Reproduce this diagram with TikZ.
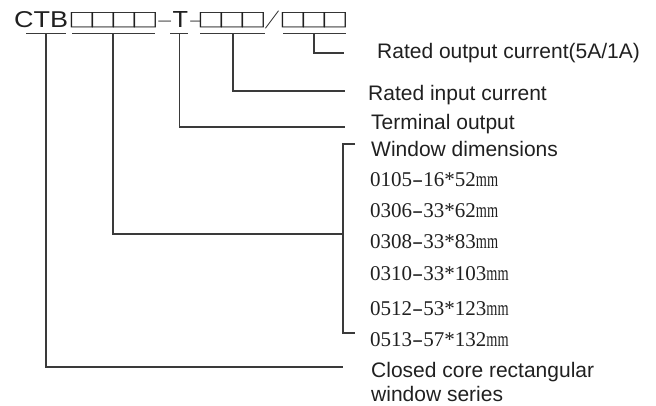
\documentclass[tikz,border=0pt]{standalone}
\usepackage{fontspec}
\setmainfont{Liberation Sans}
\newfontfamily\serifnum{Liberation Serif}
\newfontfamily\cjkfont{Noto Sans CJK SC}
\definecolor{ink}{HTML}{202020}
\definecolor{wirecol}{HTML}{3A3A3A}
\newcommand\mysqf{\cjkfont\bfseries\fontsize{19.25}{19.25}\selectfont}
\newcommand\mysqk{\kern-4.67pt}
\newcommand\mysqe{\kern-2.02pt}
\newcommand\mymm{\scalebox{0.68}[1]{mm}}
\newcommand\myhy{\scalebox{1.6}[1]{-}}
\newcommand\mydash{\fontsize{11}{11}\selectfont\kern-0.44pt-\kern-0.69pt}
\begin{document}
\begin{tikzpicture}[x=1pt,y=-1pt,
  ttl/.style={anchor=base west, inner sep=0pt, text=ink},
  lab/.style={anchor=base west, inner sep=0pt, text=ink, font=\fontsize{21}{24}\selectfont},
  num/.style={anchor=base west, inner sep=0pt, text=ink, font=\serifnum\fontsize{21}{24}\selectfont},
  wire/.style={draw=wirecol, line width=1.2pt}]
\useasboundingbox (0,0) rectangle (656,406);
% title
\node[ttl] (ctb) at (14,28) {\resizebox{54pt}{16pt}{CTB}};
\node[ttl] (b1) at (71,27.4) {\scalebox{1.44}[1]{\mysqf\mysqe □\mysqk□\mysqk□\mysqk□\mysqe}};
\node[ttl] (d1) at (158,24.7) {\scalebox{4.74}[1]{\mydash}};
\node[ttl] (t) at (172.5,28) {\resizebox{15.5pt}{16pt}{T}};
\node[ttl] (d2) at (190,24.7) {\scalebox{3.95}[1]{\mydash}};
\node[ttl] (b3) at (200,27.4) {\scalebox{1.44}[1]{\mysqf\mysqe □\mysqk□\mysqk□\mysqe}};
\node[anchor=center, inner sep=0pt, text=ink] (sl) at (272,20)
  {\rotatebox{-36.9}{\scalebox{1}[2.4]{\rotatebox{15.5}{\fontsize{12}{12}\selectfont /}}}};
\node[ttl] (b4) at (282,27.4) {\scalebox{1.44}[1]{\mysqf\mysqe □\mysqk□\mysqk□\mysqe}};
% underlines
\coordinate (u1a) at (26,33.5);  \coordinate (u1b) at (66,33.5);  \coordinate (s1) at (46,33.5);
\coordinate (u2a) at (72,33.5);  \coordinate (u2b) at (155,33.5); \coordinate (s2) at (113,33.5);
\coordinate (u3a) at (170,33.5); \coordinate (u3b) at (188,33.5); \coordinate (s3) at (179.5,33.5);
\coordinate (u4a) at (200,33.5); \coordinate (u4b) at (265,33.5); \coordinate (s4) at (233,33.5);
\coordinate (u5a) at (283,33.5); \coordinate (u5b) at (346,33.5); \coordinate (s5) at (314,33.5);
\draw[wire] (u1a) -- (u1b);
\draw[wire] (u2a) -- (u2b);
\draw[wire] (u3a) -- (u3b);
\draw[wire] (u4a) -- (u4b);
\draw[wire] (u5a) -- (u5b);
% end points
\coordinate (e5) at (344,53);
\coordinate (e4) at (345,91);
\coordinate (e3) at (345,127);
\coordinate (e2) at (343,234);
\coordinate (e1) at (343,367);
\coordinate (bt) at (343,144); \coordinate (btx) at (355,144);
\coordinate (bb) at (343,333); \coordinate (bbx) at (355,333);
\draw[wire] (s5) |- (e5);
\draw[wire] (s4) |- (e4);
\draw[wire] (s3) |- (e3);
\draw[wire] (s2) |- (e2);
\draw[wire] (s1) |- (e1);
\draw[wire] (btx) -- (bt) -- (bb) -- (bbx);
% labels
\node[lab] (l5) at (377,59) {Rated output current(5A/1A)};
\node[lab] (l4) at (368,100.5) {Rated input current};
\node[lab] (l3) at (371,130) {Terminal output};
\node[lab] (l2) at (371,156.5) {Window dimensions};
\node[num] (n1) at (370,186.5) {0105\myhy16*52\mymm};
\node[num] (n2) at (370,217.5) {0306\myhy33*62\mymm};
\node[num] (n3) at (370,248.5) {0308\myhy33*83\mymm};
\node[num] (n4) at (370,280.5) {0310\myhy33*103\mymm};
\node[num] (n5) at (370,315) {0512\myhy53*123\mymm};
\node[num] (n6) at (370,346) {0513\myhy57*132\mymm};
\node[lab] (l1) at (371,377) {Closed core rectangular};
\node[lab] (l1b) at (371,401) {window series};
\end{tikzpicture}
\end{document}
